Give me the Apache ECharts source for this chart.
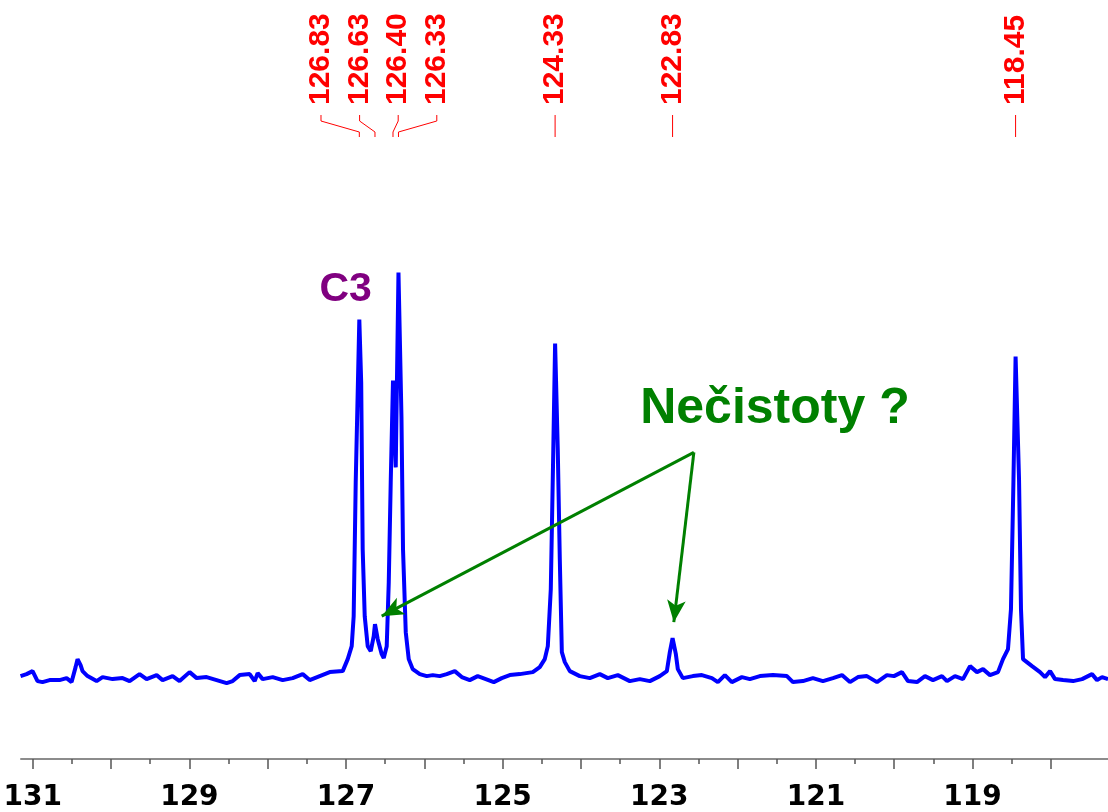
<!DOCTYPE html>
<html>
<head>
<meta charset="utf-8">
<title>13C NMR 117-131 ppm</title>
<script src="https://cdn.jsdelivr.net/npm/echarts@6/dist/echarts.min.js"></script>
<style>
  html, body { margin: 0; padding: 0; background: #fff; }
  #app { width: 1108px; height: 812px; }
</style>
</head>
<body>
<div id="app"></div>
<script>
const shifts = [
  131.156, 131.079, 131.002, 130.939, 130.875, 130.785, 130.658, 130.568, 130.504, 130.453,
  130.428, 130.389, 130.364, 130.300, 130.185, 130.108, 129.980, 129.853, 129.763, 129.636,
  129.546, 129.418, 129.342, 129.214, 129.125, 128.997, 128.907, 128.780, 128.652, 128.524,
  128.447, 128.358, 128.230, 128.166, 128.128, 128.064, 127.936, 127.809, 127.681, 127.553,
  127.464, 127.336, 127.208, 127.042, 126.978, 126.927, 126.902, 126.876, 126.830, 126.806,
  126.787, 126.761, 126.723, 126.684, 126.646, 126.630, 126.595, 126.544, 126.518, 126.480,
  126.454, 126.429, 126.400, 126.365, 126.330, 126.292, 126.272, 126.237, 126.199, 126.148,
  126.058, 125.969, 125.892, 125.803, 125.714, 125.611, 125.522, 125.420, 125.318, 125.215,
  125.113, 125.011, 124.909, 124.781, 124.615, 124.526, 124.462, 124.423, 124.385, 124.353,
  124.330, 124.296, 124.270, 124.244, 124.206, 124.142, 124.015, 123.887, 123.759, 123.657,
  123.529, 123.376, 123.248, 123.120, 122.993, 122.903, 122.865, 122.830, 122.788, 122.763,
  122.699, 122.571, 122.456, 122.328, 122.252, 122.162, 122.073, 121.945, 121.843, 121.715,
  121.549, 121.370, 121.293, 121.166, 121.038, 120.910, 120.782, 120.667, 120.565, 120.463,
  120.348, 120.220, 120.093, 120.003, 119.901, 119.824, 119.709, 119.607, 119.505, 119.390,
  119.326, 119.224, 119.122, 119.032, 118.943, 118.866, 118.777, 118.675, 118.611, 118.547,
  118.509, 118.477, 118.450, 118.406, 118.381, 118.355, 118.240, 118.138, 118.074, 118.010,
  117.946, 117.844, 117.716, 117.601, 117.474, 117.410, 117.346, 117.269
];
// intensity (arbitrary units) at each shift above
const intensities = [
  3, 5, 8, -2, -3, -1, -1, 1, -3, 12,
  20, 14, 8, 3, -2, 2, 0, 1, -2, 5,
  0, 4, -1, 3, -2, 7, 1, 2, -1, -4,
  -2, 4, 5, -2, 6, 0, 2, -1, 1, 5,
  -1, 3, 7, 8, 20, 33, 63, 197, 360, 297,
  130, 63, 33, 28, 43, 55, 40, 25, 21, 33,
  97, 197, 299, 212, 407, 263, 130, 47, 20, 10,
  5, 3, 4, 3, 5, 8, 2, -1, 3, 0,
  -3, 1, 4, 5, 7, 12, 20, 33, 90, 230,
  336, 230, 120, 27, 17, 8, 3, 1, 5, 1,
  4, -2, 0, -2, 3, 8, 27, 41, 25, 10,
  1, 3, 4, 1, -3, 4, -3, 2, 0, 3,
  4, 3, -3, -2, 1, -2, 1, 4, -3, 2,
  3, -3, 4, 3, 7, -2, -3, 3, -1, 3,
  -2, 3, 0, 13, 7, 10, 4, 7, 20, 30,
  70, 200, 323, 200, 70, 20, 13, 7, 2, 8,
  0, -1, -2, 0, 5, -1, 2, 0
];

// picked peaks (labels at the top)
const peakShifts = [126.83, 126.63, 126.40, 126.33, 124.33, 122.83, 118.45];

// axis ticks and labels
const majorTicks = [118, 119, 120, 121, 122, 123, 124, 125, 126, 127, 128, 129, 130, 131];
const minorTicks = [118.5, 119.5, 120.5, 121.5, 122.5, 123.5, 124.5, 125.5, 126.5, 127.5, 128.5, 129.5, 130.5];
const tickLabels = [119, 121, 123, 125, 127, 129, 131];

// annotations, in [ppm, intensity]
const c3Anchor = [127.004, 390];
const impurityText = [121.523, 270];
const arrowStart = [122.558, 227];
const arrowTips = [[126.544, 63], [122.814, 57]];

const spectrum = shifts.map((s, i) => [s, intensities[i]]);

const RED = '#ff0000';
const LABEL_GAP = 38.6;

// spread the labels of close peaks so they do not overlap
function labelPositions(xs) {
  const order = xs.map((x, i) => i).sort((a, b) => xs[a] - xs[b]);
  const out = new Array(xs.length);
  let group = [order[0]];
  const flush = () => {
    const first = xs[group[0]], last = xs[group[group.length - 1]];
    const c = (first + last) / 2;
    group.forEach((idx, k) => {
      out[idx] = c + (k - (group.length - 1) / 2) * LABEL_GAP;
    });
  };
  for (let k = 1; k < order.length; k++) {
    const prev = order[k - 1], cur = order[k];
    if (xs[cur] - xs[prev] < LABEL_GAP) group.push(cur);
    else { flush(); group = [cur]; }
  }
  flush();
  return out;
}

const renderPeakLabel = (params, api) => {
  const xs = peakShifts.map(p => api.coord([p, 0])[0]);
  const lx = labelPositions(xs);
  const i = params.dataIndex;
  const px = xs[i], tx = lx[i];
  return {
    type: 'group',
    children: [
      {
        type: 'text',
        x: tx,
        y: 105,
        rotation: Math.PI / 2,
        style: {
          text: peakShifts[i].toFixed(2),
          fill: RED,
          fontSize: 30,
          fontWeight: 'bold',
          fontFamily: 'Liberation Sans',
          align: 'left',
          verticalAlign: 'middle'
        }
      },
      {
        type: 'polyline',
        shape: { points: [[tx, 115], [tx, 121], [px, 132], [px, 137]] },
        style: { stroke: RED, lineWidth: 1, fill: null }
      }
    ]
  };
};

const option = {
  animation: false,
  grid: { left: 21, right: 0, top: 0, bottom: 52 },
  xAxis: [
    {
      type: 'value',
      min: 117.27,
      max: 131.15,
      inverse: true,
      position: 'bottom',
      splitLine: { show: false },
      axisLine: { show: true, onZero: false, lineStyle: { color: '#8c8c8c', width: 2 } },
      axisTick: {
        show: true,
        customValues: majorTicks,
        length: 10,
        lineStyle: { color: '#555', width: 1.5 }
      },
      axisLabel: {
        customValues: tickLabels,
        margin: 25,
        color: '#000',
        fontSize: 28,
        fontWeight: 'bold',
        fontFamily: 'DejaVu Sans',
        formatter: v => String(v)
      }
    },
    {
      type: 'value',
      min: 117.27,
      max: 131.15,
      inverse: true,
      position: 'bottom',
      splitLine: { show: false },
      axisLine: { show: false, onZero: false },
      axisTick: {
        show: true,
        customValues: minorTicks,
        length: 5,
        lineStyle: { color: '#555', width: 1.5 }
      },
      axisLabel: { show: false }
    }
  ],
  yAxis: {
    type: 'value',
    min: -80,
    max: 680,
    show: false
  },
  series: [
    {
      type: 'line',
      data: spectrum,
      showSymbol: false,
      symbol: 'none',
      lineStyle: { color: '#0000ff', width: 4 },
      itemStyle: { color: '#0000ff' },
      silent: true,
      markPoint: {
        symbol: 'circle',
        symbolSize: 0,
        silent: true,
        data: [
          {
            coord: c3Anchor,
            label: {
              show: true,
              position: 'inside',
              formatter: 'C3',
              color: '#800080',
              fontSize: 41,
              fontWeight: 'bold',
              fontFamily: 'Liberation Sans'
            }
          },
          {
            coord: impurityText,
            label: {
              show: true,
              position: 'inside',
              formatter: 'Nečistoty ?',
              color: '#008000',
              fontSize: 50,
              fontWeight: 'bold',
              fontFamily: 'Liberation Sans'
            }
          }
        ]
      },
      markLine: {
        silent: true,
        symbol: ['none', 'arrow'],
        symbolSize: [14, 22],
        label: { show: false },
        lineStyle: { color: '#008000', width: 3, type: 'solid' },
        data: arrowTips.map(t => [{ coord: arrowStart }, { coord: t }])
      }
    },
    {
      type: 'custom',
      xAxisIndex: 0,
      yAxisIndex: 0,
      clip: false,
      silent: true,
      data: peakShifts.map(p => [p, 0]),
      renderItem: renderPeakLabel
    }
  ]
};

const chart = echarts.init(document.getElementById('app'));
chart.setOption(option);
</script>
</body>
</html>
